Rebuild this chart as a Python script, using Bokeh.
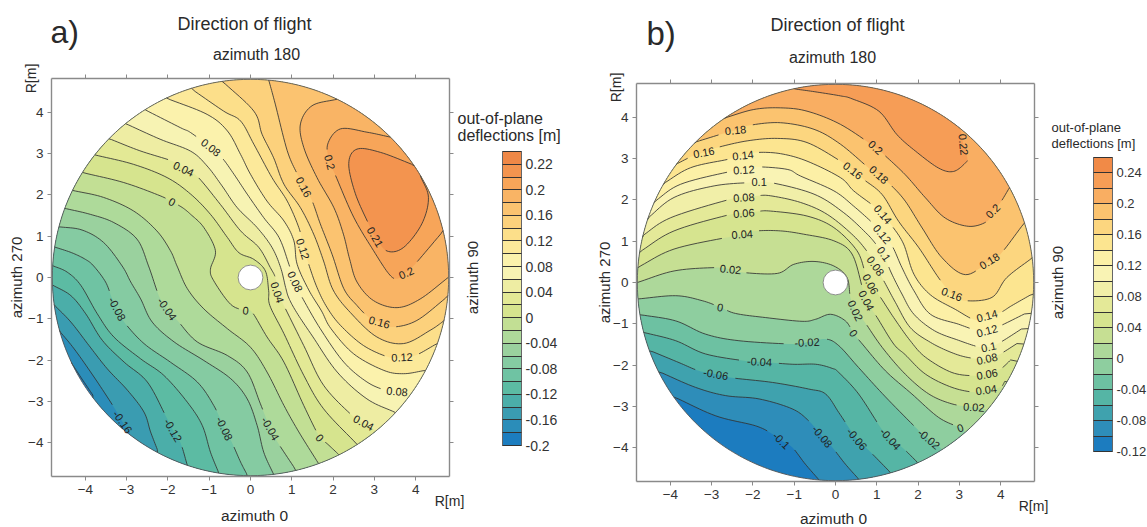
import numpy as np
from bokeh.core.properties import value
from bokeh.embed import file_html
from bokeh.resources import INLINE
from bokeh.plotting import figure
from bokeh.layouts import row
from bokeh.models import (ColorBar, ColumnDataSource, CustomJSTickFormatter, FixedTicker, Label,
                          LinearAxis, LinearColorMapper)

# ---------- panel a: contour traces (R[m] east, R[m] north) ----------
a_m18 = [(-4.35,-2.05),(-4.08,-2.46),(-3.79,-2.89)]
a_m16 = [(-4.64,-1.28),(-4.27,-1.73),(-3.79,-2.41),(-3.31,-3.14),(-3.10,-3.50),(-2.90,-3.78)]
a_m14 = [(-4.76,-0.66),(-4.35,-1.08),(-3.91,-1.65),(-3.47,-2.21),(-2.98,-2.73),(-2.58,-3.26),(-2.42,-3.74),(-2.24,-4.21)]
a_m12 = [(-4.80,-0.18),(-4.35,-0.44),(-3.99,-0.88),(-3.59,-1.52),(-3.06,-2.05),(-2.50,-2.53),(-2.06,-3.34),(-1.88,-3.70),(-1.69,-4.02),(-1.53,-4.55)]
a_m10 = [(-4.80,0.29),(-4.44,0.13),(-4.11,-0.19),(-3.71,-0.88),(-3.31,-1.44),(-2.66,-1.97),(-2.10,-2.37),(-1.53,-3.02),(-1.17,-3.58),(-0.97,-4.23),(-0.77,-4.73)]
a_m08 = [(-4.78,0.75),(-4.33,0.60),(-4.00,0.44),(-3.80,0.28),(-3.51,-0.11),(-3.35,-0.52),(-3.23,-0.76),(-3.06,-1.08),(-2.58,-1.60),(-1.94,-2.05),(-1.29,-2.53),(-0.89,-3.10),(-0.63,-3.66),(-0.44,-4.02),(-0.24,-4.47),(-0.08,-4.78)]
a_m06 = [(-4.65,1.23),(-4.08,1.15),(-3.56,0.85),(-3.11,0.28),(-2.90,-0.11),(-2.66,-0.52),(-2.38,-1.08),(-1.85,-1.56),(-1.13,-2.01),(-0.48,-2.45),(-0.08,-2.94),(0.16,-3.58),(0.32,-4.23),(0.56,-4.77)]
a_m04 = [(-4.52,1.68),(-3.88,1.53),(-3.31,1.33),(-2.75,0.93),(-2.47,0.28),(-2.22,-0.44),(-2.02,-0.76),(-1.77,-1.04),(-1.29,-1.56),(-0.56,-1.89),(-0.08,-2.29),(0.24,-3.06),(0.48,-3.66),(0.65,-3.98),(1.09,-4.65)]
a_m02 = [(-4.31,2.11),(-3.56,1.94),(-2.83,1.61),(-2.27,1.13),(-1.94,0.65),(-1.78,0.28),(-1.53,-0.27),(-1.13,-0.76),(-0.56,-1.24),(0.0,-1.69),(0.40,-2.29),(0.81,-3.10),(1.17,-3.74),(1.65,-4.51)]
a_p00 = [(-4.06,2.54),(-3.07,2.30),(-2.19,1.98),(-1.90,1.83),(-1.66,1.70),(-1.45,1.53),(-1.13,1.21),(-0.85,0.65),(-0.97,0.20),(-0.89,-0.08),(-0.48,-0.65),(-0.12,-0.80),(0.04,-0.84),(0.40,-1.44),(0.81,-2.05),(1.29,-3.10),(1.68,-3.88),(1.85,-4.02),(2.14,-4.29)]
a_p02 = [(-3.77,2.97),(-2.83,2.74),(-2.02,2.42),(-1.45,2.02),(-0.97,1.53),(-0.56,0.97),(-0.28,0.60),(0.08,0.44),(0.36,0.16),(0.44,-0.32),(0.47,-0.68),(0.81,-1.36),(1.29,-2.37),(1.77,-3.18),(2.58,-4.04)]
a_p04 = [(-3.44,3.37),(-2.68,3.07),(-1.87,2.81),(-1.62,2.63),(-1.30,2.46),(-0.73,1.77),(-0.24,1.13),(0.20,0.73),(0.48,0.24),(0.60,0.0),(0.66,-0.36),(0.77,-0.60),(1.29,-1.65),(1.77,-2.61),(2.46,-3.34),(2.74,-3.52),(3.02,-3.70)]
a_p06 = [(-3.03,3.73),(-2.19,3.35),(-1.45,3.06),(-1.05,2.70),(-0.69,2.22),(-0.32,1.69),(0.16,1.21),(0.52,0.73),(0.73,0.24),(0.85,-0.24),(0.93,-0.50),(1.12,-0.85),(1.50,-1.42),(2.10,-2.29),(2.82,-2.94),(3.51,-3.27)]
a_p08 = [(-2.55,4.06),(-1.70,3.63),(-1.45,3.51),(-0.97,3.15),(-0.69,2.90),(-0.40,2.50),(-0.08,2.02),(0.32,1.45),(0.69,0.97),(0.93,0.32),(1.07,-0.12),(1.25,-0.48),(1.69,-1.24),(2.26,-2.05),(2.82,-2.53),(3.27,-2.73),(3.55,-2.76),(3.87,-2.90)]
a_p10 = [(-2.03,4.34),(-1.05,3.95),(-0.56,3.55),(-0.24,2.98),(0.0,2.50),(0.40,1.85),(0.81,1.37),(1.05,0.89),(1.13,0.32),(1.41,-0.30),(1.72,-0.81),(1.95,-1.24),(2.50,-1.85),(3.23,-2.25),(3.71,-2.33),(4.23,-2.25)]
a_p12 = [(-1.42,4.56),(-0.65,4.03),(-0.24,3.79),(0.08,3.23),(0.52,2.42),(0.89,1.85),(1.17,1.21),(1.29,0.73),(1.41,0.32),(1.61,-0.24),(1.85,-0.72),(2.18,-1.16),(2.74,-1.65),(3.35,-1.93),(3.67,-1.93),(3.99,-1.89),(4.52,-1.60)]
a_p14 = [(-0.69,4.76),(0.08,4.03),(0.28,3.47),(0.56,2.90),(0.81,2.26),(1.21,1.69),(1.53,1.05),(1.77,0.40),(2.00,-0.30),(2.42,-0.85),(3.06,-1.44),(3.71,-1.60),(4.35,-1.28),(4.70,-1.04)]
a_p16 = [(0.44,4.79),(0.60,4.20),(0.89,3.07),(1.13,2.51),(1.29,2.19),(1.49,1.86),(1.69,1.30),(1.98,0.55),(2.26,-0.27),(2.58,-0.68),(2.86,-0.96),(3.12,-1.08),(3.43,-1.20),(4.03,-1.04),(4.80,-0.44)]
a_p18 = [(2.10,4.32),(1.49,4.16),(1.21,3.72),(1.29,3.15),(1.61,2.42),(2.02,1.69),(2.25,1.05),(2.40,0.45),(2.58,-0.11),(2.98,-0.56),(3.55,-0.73),(4.11,-0.52),(4.80,0.01)]
a_p20 = [(3.39,3.40),(2.82,3.52),(2.18,3.60),(1.87,3.23),(1.92,2.79),(2.06,2.47),(2.50,1.46),(2.98,0.65),(3.35,0.09),(3.55,-0.03),(3.77,0.13),(3.99,0.33),(4.68,1.14)]
a_p21 = [(3.99,2.71),(3.15,3.03),(2.58,3.11),(2.38,2.76),(2.54,2.03),(2.86,1.30),(3.02,0.98),(3.31,0.64),(3.71,0.73),(4.15,1.30),(4.31,1.94),(4.11,2.47)]

a_line_levels = [-0.18,-0.16,-0.14,-0.12,-0.10,-0.08,-0.06,-0.04,-0.02,0,0.02,0.04,0.06,0.08,0.10,0.12,0.14,0.16,0.18,0.20,0.21]
a_lines = [a_m18,a_m16,a_m14,a_m12,a_m10,a_m08,a_m06,a_m04,a_m02,a_p00,a_p02,a_p04,a_p06,a_p08,a_p10,a_p12,a_p14,a_p16,a_p18,a_p20,a_p21]
a_levels = [-0.20,-0.18,-0.16,-0.14,-0.12,-0.10,-0.08,-0.06,-0.04,-0.02,0,0.02,0.04,0.06,0.08,0.10,0.12,0.14,0.16,0.18,0.20,0.21,0.22,0.23]
a_band_colors = ["#1C7DBF","#2B8DB9","#3A9CB1","#4BAEA9","#5CBBA3","#6FC3A3","#85CBA2","#9AD19E","#AEDA9A","#C2DF94",
                 "#D6E48E","#E3E995","#EEEDA3","#F7F3B3","#FBF2AC","#FCE99A","#FCDF8A","#FCD17C","#FBC370","#F9B465",
                 "#F7A559","#F3944F","#EF8847"]
a_bar_ticks = [-0.20,-0.16,-0.12,-0.08,-0.04,0,0.04,0.08,0.12,0.16,0.20,0.22]
a_bar_labels = ["-0.2","-0.16","-0.12","-0.08","-0.04","0","0.04","0.08","0.12","0.16","0.2","0.22"]
# contour label: level, x, y, text, angle in degrees
a_labels = [(0.08,-0.96,3.15,"0.08",-38),(0.04,-1.62,2.63,"0.04",-25),(0,-1.90,1.83,"0",-28),(-0.08,-3.23,-0.76,"-0.08",-62),
            (-0.04,-2.02,-0.76,"-0.04",-55),(0,-0.12,-0.80,"0",-5),(-0.16,-3.10,-3.50,"-0.16",-55),(-0.12,-1.88,-3.70,"-0.12",-60),
            (-0.08,-0.63,-3.66,"-0.08",-65),(-0.04,0.48,-3.66,"-0.04",-60),(0,1.68,-3.88,"0",-50),(0.04,2.74,-3.52,"0.04",-28),
            (0.08,3.55,-2.76,"0.08",-5),(0.12,3.67,-1.93,"0.12",3),(0.16,3.12,-1.08,"0.16",-15),(0.20,3.77,0.11,"0.2",25),
            (0.21,3.02,0.98,"0.21",-60),(0.20,1.92,2.79,"0.2",-75),(0.16,1.29,2.19,"0.16",-62),(0.12,1.27,0.69,"0.12",-72),
            (0.08,1.08,-0.10,"0.08",-65),(0.04,0.65,-0.36,"0.04",-72)]

# ---------- panel b ----------
b_m10 = [(-3.91,-2.77),(-2.90,-3.23),(-1.94,-3.47),(-1.53,-3.67),(-1.31,-3.83),(-1.05,-3.99),(-0.73,-4.40),(-0.40,-4.78)]
b_m08 = [(-4.27,-2.16),(-3.39,-2.54),(-2.66,-2.74),(-1.85,-2.82),(-1.05,-3.06),(-0.65,-3.35),(-0.32,-3.73),(-0.08,-3.99),(0.24,-4.40),(0.56,-4.76)]
b_m06 = [(-4.49,-1.65),(-3.79,-1.94),(-3.31,-2.14),(-2.90,-2.22),(-2.50,-2.31),(-1.53,-2.42),(-0.65,-2.58),(-0.24,-2.70),(0.08,-3.15),(0.32,-3.51),(0.52,-3.79),(0.81,-4.07),(1.33,-4.60)]
b_m04 = [(-4.64,-1.21),(-3.87,-1.41),(-3.15,-1.73),(-2.18,-1.90),(-1.84,-1.92),(-1.05,-1.98),(-0.48,-1.98),(-0.08,-2.08),(0.08,-2.18),(0.56,-2.70),(1.09,-3.51),(1.33,-3.79),(1.61,-3.99),(1.98,-4.35)]
b_m02 = [(-4.72,-0.78),(-3.87,-0.93),(-3.15,-1.25),(-2.34,-1.41),(-1.05,-1.49),(-0.69,-1.45),(-0.24,-1.37),(0.08,-1.53),(0.56,-2.06),(1.21,-2.77),(2.02,-3.59),(2.26,-3.79),(2.54,-3.99)]
b_p00 = [(-4.80,-0.40),(-3.87,-0.32),(-3.23,-0.44),(-2.79,-0.60),(-2.42,-0.75),(-1.69,-0.85),(-0.81,-0.94),(-0.48,-0.89),(-0.12,-0.77),(0.24,-0.93),(0.44,-1.23),(0.65,-1.49),(1.21,-2.14),(1.85,-2.70),(2.50,-3.27),(3.02,-3.52),(3.15,-3.63)]
b_p02 = [(-4.80,0.0),(-3.91,0.28),(-2.94,0.36),(-2.54,0.32),(-2.22,0.24),(-1.41,0.22),(-1.01,0.44),(-0.52,0.51),(-0.04,0.40),(0.28,0.12),(0.36,-0.36),(0.48,-0.65),(0.69,-0.93),(1.13,-1.57),(1.69,-2.22),(2.26,-2.70),(2.82,-2.94),(3.35,-3.02),(3.63,-3.06)]
b_p04 = [(-4.80,0.36),(-3.91,0.81),(-2.54,1.11),(-2.26,1.17),(-1.90,1.25),(-1.33,1.25),(-0.77,1.17),(-0.04,1.01),(0.40,0.69),(0.65,-0.12),(0.75,-0.44),(1.01,-0.85),(1.41,-1.49),(1.69,-1.75),(2.18,-2.22),(2.82,-2.54),(3.39,-2.66),(3.65,-2.60),(3.99,-2.54),(4.11,-2.38)]
b_p06 = [(-4.76,0.73),(-3.91,1.25),(-2.54,1.65),(-2.22,1.68),(-1.90,1.72),(-1.57,1.73),(-0.69,1.61),(-0.04,1.33),(0.52,0.77),(0.73,0.20),(0.85,-0.04),(1.09,-0.36),(1.41,-0.85),(1.81,-1.41),(2.18,-1.81),(2.82,-2.18),(3.39,-2.26),(3.67,-2.22),(3.99,-2.10),(4.27,-1.85)]
b_p08 = [(-4.72,1.10),(-3.99,1.57),(-2.54,2.02),(-2.22,2.06),(-1.90,2.10),(-1.57,2.10),(-0.85,1.94),(-0.20,1.65),(0.44,1.13),(0.81,0.69),(0.97,0.40),(1.17,0.04),(1.45,-0.48),(1.81,-1.09),(2.30,-1.45),(2.82,-1.70),(3.23,-1.82),(3.67,-1.85),(3.99,-1.73),(4.44,-1.45)]
b_p10 = [(-4.58,1.53),(-3.91,2.06),(-2.94,2.34),(-2.06,2.42),(-1.57,2.42),(-0.52,2.14),(0.20,1.69),(0.77,1.17),(1.01,0.89),(1.17,0.69),(1.33,0.28),(1.61,-0.28),(1.90,-0.77),(2.40,-1.17),(2.98,-1.40),(3.47,-1.56),(3.71,-1.56),(3.99,-1.45),(4.56,-1.09)]
b_p12 = [(-4.41,1.94),(-3.75,2.38),(-2.54,2.69),(-2.22,2.73),(-1.90,2.80),(-1.17,2.74),(-0.85,2.58),(-0.04,2.22),(0.44,1.85),(0.93,1.41),(1.13,1.17),(1.37,0.89),(1.61,0.36),(1.90,-0.20),(2.30,-0.77),(2.98,-1.01),(3.39,-1.15),(3.67,-1.17),(3.99,-1.05),(4.64,-0.73)]
b_p14 = [(-4.19,2.38),(-3.51,2.78),(-2.62,2.98),(-2.24,3.08),(-1.90,3.15),(-1.33,3.12),(-0.69,2.94),(0.12,2.54),(0.44,2.22),(0.93,1.85),(1.15,1.65),(1.37,1.37),(1.65,0.93),(1.90,0.20),(2.30,-0.30),(2.90,-0.65),(3.39,-0.91),(3.67,-0.81),(3.99,-0.73),(4.27,-0.56),(4.76,-0.28)]
b_p16 = [(-3.87,2.86),(-3.47,3.06),(-3.19,3.15),(-2.86,3.27),(-2.14,3.43),(-1.41,3.49),(-0.69,3.39),(0.12,2.94),(0.42,2.71),(0.69,2.49),(1.13,2.13),(1.53,1.48),(2.02,0.84),(2.50,0.11),(2.82,-0.28),(3.15,-0.44),(3.79,-0.36),(4.15,0.12),(4.77,0.60)]
b_p18 = [(-3.43,3.39),(-2.78,3.59),(-2.42,3.69),(-2.06,3.81),(-1.33,3.87),(-0.52,3.71),(0.12,3.35),(0.81,2.77),(1.05,2.61),(1.33,2.37),(1.69,1.97),(2.10,1.32),(2.58,0.60),(3.15,0.19),(3.73,0.52),(3.99,0.68),(4.57,1.44)]
b_p20 = [(-2.70,3.98),(-1.98,4.19),(-1.33,4.23),(-0.69,4.15),(0.12,3.83),(0.97,3.27),(1.17,3.10),(1.69,2.61),(2.18,2.05),(2.66,1.56),(3.23,1.36),(3.67,1.48),(3.81,1.73),(3.99,1.93),(4.21,2.29)]
b_p22 = [(-1.00,4.69),(-0.50,4.62),(0.12,4.52),(0.40,4.45),(1.05,4.15),(1.49,3.58),(1.94,3.18),(2.50,2.77),(2.86,2.69),(3.15,2.90),(3.19,3.02),(3.10,3.34),(3.02,3.73)]

b_line_levels = [-0.10,-0.08,-0.06,-0.04,-0.02,0,0.02,0.04,0.06,0.08,0.10,0.12,0.14,0.16,0.18,0.20,0.22]
b_lines = [b_m10,b_m08,b_m06,b_m04,b_m02,b_p00,b_p02,b_p04,b_p06,b_p08,b_p10,b_p12,b_p14,b_p16,b_p18,b_p20,b_p22]
b_levels = [-0.12,-0.10,-0.08,-0.06,-0.04,-0.02,0,0.02,0.04,0.06,0.08,0.10,0.12,0.14,0.16,0.18,0.20,0.22,0.24,0.26]
b_band_colors = ["#1C7CBF","#2E8DB9","#3FA2AE","#55B5A5","#6DC1A2","#8ECE9F","#ADD89A","#C6DF93","#D6E48F","#E4E998",
                 "#F1EFA8","#F9F3B4","#FCF0A6","#FCE590","#FCD67F","#FBC36F","#F9AE62","#F69D56","#F18A47"]
b_bar_ticks = [-0.12,-0.08,-0.04,0,0.04,0.08,0.12,0.16,0.20,0.24]
b_bar_labels = ["-0.12","-0.08","-0.04","0","0.04","0.08","0.12","0.16","0.2","0.24"]
b_labels = [(0.18,-2.42,3.69,"0.18",6),(0.16,-3.19,3.15,"0.16",10),(0.14,-2.24,3.08,"0.14",6),(0.12,-2.22,2.73,"0.12",4),
            (0.10,-1.85,2.44,"0.1",0),(0.08,-2.22,2.06,"0.08",4),(0.06,-2.22,1.68,"0.06",4),(0.04,-2.26,1.17,"0.04",4),
            (0.02,-2.54,0.32,"0.02",-5),(0,-2.79,-0.60,"0",-10),(-0.02,-0.69,-1.45,"-0.02",3),(-0.04,-1.84,-1.92,"-0.04",-3),
            (-0.06,-2.90,-2.22,"-0.06",-10),(-0.08,-0.32,-3.73,"-0.08",-50),(-0.10,-1.31,-3.83,"-0.1",-45),
            (0.22,3.10,3.34,"0.22",-85),(0.20,0.97,3.27,"0.2",-42),(0.18,1.05,2.61,"0.18",-42),(0.16,0.42,2.71,"0.16",-38),
            (0.14,1.15,1.65,"0.14",-50),(0.12,1.13,1.17,"0.12",-50),(0.10,1.17,0.69,"0.1",-55),(0.08,0.97,0.40,"0.08",-55),
            (0.06,0.85,-0.04,"0.06",-62),(0.04,0.75,-0.44,"0.04",-62),(0.02,0.48,-0.68,"0.02",-65),(0,0.44,-1.23,"0",-55),
            (0.20,3.81,1.73,"0.2",45),(0.18,3.73,0.52,"0.18",32),(0.16,2.82,-0.28,"0.16",-20),(0.14,3.67,-0.81,"0.14",15),
            (0.12,3.67,-1.17,"0.12",15),(0.10,3.71,-1.56,"0.1",12),(0.08,3.67,-1.85,"0.08",12),(0.06,3.67,-2.22,"0.06",10),
            (0.04,3.65,-2.60,"0.04",8),(0.02,3.35,-3.02,"0.02",-3),(0,3.02,-3.52,"0",20),(-0.02,2.26,-3.79,"-0.02",-40),
            (-0.04,1.33,-3.79,"-0.04",-48),(-0.06,0.52,-3.79,"-0.06",-50)]

TICKS = [-4,-3,-2,-1,0,1,2,3,4]
RADIUS = 4.8
HOLE = 0.3
SPAN = 4.82
PPU = 398 / (2 * SPAN)
FONT = "Liberation Sans"
INK = "#2a2a2a"
HEIGHT = 527


def smooth(pts, n=10):
    """Round the corners of a traced contour (Catmull-Rom through the traced points)."""
    p = np.array(pts, dtype=float)
    p = np.vstack([2 * p[0] - p[1], p, 2 * p[-1] - p[-2]])
    out = []
    for i in range(1, len(p) - 2):
        for t in np.linspace(0, 1, n, endpoint=False):
            out.append(0.5 * (2 * p[i] + (p[i + 1] - p[i - 1]) * t
                              + (2 * p[i - 1] - 5 * p[i] + 4 * p[i + 1] - p[i + 2]) * t ** 2
                              + (3 * p[i] - p[i - 1] - 3 * p[i + 1] + p[i + 2]) * t ** 3))
    out.append(p[-2])
    return np.array(out)


def to_rim(pt):
    return pt * RADIUS / np.hypot(*pt)


def panel(lines, line_levels, levels, colors, labels, bar_ticks, bar_labels, x0, width, centre, label_size):
    """x0 = left page pixel of this figure; centre = page pixels of the R=0 point."""
    cx, cy = centre
    lx0 = cx - x0
    p = figure(width=width, height=HEIGHT, x_range=(-lx0 / PPU, (width - lx0) / PPU),
               y_range=((cy - HEIGHT) / PPU, cy / PPU), output_backend="svg", toolbar_location=None,
               min_border=0, outline_line_color=None, background_fill_color="white",
               border_fill_color="white", x_axis_location=None, y_axis_location=None)
    p.grid.visible = False

    th = np.linspace(0, 2 * np.pi, 361)
    p.patch(RADIUS * np.cos(th), RADIUS * np.sin(th), fill_color=colors[0], line_color=None)

    xs, ys, fills, seg_x, seg_y = [], [], [], [], []
    for level, line in zip(line_levels, lines):
        c = smooth(line)
        c[0], c[-1] = to_rim(c[0]), to_rim(c[-1])
        a0 = np.arctan2(c[-1][1], c[-1][0])
        a1 = np.arctan2(c[0][1], c[0][0])
        if a1 < a0:
            a1 += 2 * np.pi
        arc = np.linspace(a0, a1, 90)
        xs.append(np.r_[c[:, 0], RADIUS * np.cos(arc)])
        ys.append(np.r_[c[:, 1], RADIUS * np.sin(arc)])
        fills.append(colors[int(np.argmin(np.abs(np.array(levels) - level)))])

        keep = np.ones(len(c), bool)
        for lv, lx, ly, txt, _ in labels:
            if abs(lv - level) < 1e-6:
                keep &= np.hypot(c[:, 0] - lx, c[:, 1] - ly) > 0.075 * len(txt) + 0.09
        start = None
        for i in range(len(c) + 1):
            if i < len(c) and keep[i]:
                start = i if start is None else start
            elif start is not None:
                if i - start > 1:
                    seg_x.append(c[start:i, 0])
                    seg_y.append(c[start:i, 1])
                start = None
    p.patches(xs, ys, fill_color=fills, line_color=None)
    p.multi_line(seg_x, seg_y, line_color="#333333", line_width=0.85)
    p.line(RADIUS * np.cos(th), RADIUS * np.sin(th), line_color="#555555", line_width=0.9)
    p.circle(x=[0], y=[0], radius=HOLE, fill_color="white", line_color="#777777", line_width=0.8)

    src = ColumnDataSource(dict(x=[l[1] for l in labels], y=[l[2] for l in labels],
                                text=[l[3] for l in labels], angle=[l[4] for l in labels]))
    p.text(x="x", y="y", text="text", angle="angle", angle_units="deg", source=src, text_font=value(FONT),
           text_font_size="11px", text_color="#222222", text_align="center", text_baseline="middle")

    blank = CustomJSTickFormatter(code="return ''")
    sides = {"below": -SPAN, "left": -SPAN, "above": SPAN, "right": SPAN}
    for side, where in sides.items():
        ax = LinearAxis(ticker=FixedTicker(ticks=TICKS), fixed_location=where, bounds=(-SPAN, SPAN),
                        axis_line_color="#8a8a8a", axis_line_width=1.4,
                        major_tick_line_color="#8a8a8a", major_tick_line_width=1, major_tick_in=0,
                        major_tick_out=4, minor_tick_line_color=None, major_label_text_font=FONT,
                        major_label_text_font_size="13.5px", major_label_text_color="#333333",
                        major_label_standoff=4)
        if side in ("above", "right"):
            ax.formatter = blank
        p.add_layout(ax, side)

    def note(text, px, py, size, angle=0.0, align="center"):
        p.add_layout(Label(x=(px - cx) / PPU, y=(cy - py) / PPU, text=text, x_units="data", y_units="data",
                           text_font=FONT, text_font_size=size, text_color=INK, text_align=align,
                           text_baseline="middle", angle=angle, angle_units="deg"))

    tick_idx = [int(np.argmin(np.abs(np.array(levels) - t))) for t in bar_ticks]
    overrides = {float(i): "" for i in range(len(levels))}
    overrides.update({float(i): s for i, s in zip(tick_idx, bar_labels)})
    cm = LinearColorMapper(palette=colors, low=0, high=len(colors))
    cb = ColorBar(color_mapper=cm, width=19, height=294, padding=0, margin=0, location=(0, 0),
                  background_fill_alpha=0, border_line_color=None, bar_line_color="#666666",
                  ticker=FixedTicker(ticks=list(range(len(levels)))), major_label_overrides=overrides,
                  major_tick_line_color="#333333", major_tick_line_width=1, major_tick_in=19, major_tick_out=0,
                  minor_tick_line_color=None, major_label_text_font=FONT, major_label_text_font_size=label_size,
                  major_label_text_color="#333333", label_standoff=4)
    return p, note, cb


pa, note_a, cb_a = panel(a_lines, a_line_levels, a_levels, a_band_colors, a_labels, a_bar_ticks, a_bar_labels,
                         0, 590, (250, 277), "14px")
cb_a.location = (502, HEIGHT - 445)
pa.add_layout(cb_a, "center")
note_a("a)", 50, 31, "32px", align="left")
note_a("Direction of flight", 244, 23, "18px")
note_a("azimuth 180", 256, 54, "16px")
note_a("R[m]", 30, 78, "14px", 90)
note_a("azimuth 270", 16, 277, "15px", 90)
note_a("azimuth 90", 472, 277, "15px", 90)
note_a("azimuth 0", 254, 515, "15.5px")
note_a("R[m]", 449, 500, "14px")
note_a("out-of-plane", 457, 118, "16px", align="left")
note_a("deflections [m]", 457, 135, "16px", align="left")

pb, note_b, cb_b = panel(b_lines, b_line_levels, b_levels, b_band_colors, b_labels, b_bar_ticks, b_bar_labels,
                         590, 557, (835, 282), "13px")
cb_b.location = (1093 - 590, HEIGHT - 451)
pb.add_layout(cb_b, "center")
note_b("b)", 646, 33, "33px", align="left")
note_b("Direction of flight", 837, 24, "18px")
note_b("azimuth 180", 832, 57, "16px")
note_b("R[m]", 615, 87, "14px", 90)
note_b("azimuth 270", 604, 282, "15px", 90)
note_b("azimuth 90", 1057, 282, "15px", 90)
note_b("azimuth 0", 833, 518, "15.5px")
note_b("R[m]", 1033, 505, "14px")
note_b("out-of-plane", 1051, 127, "13px", align="left")
note_b("deflections [m]", 1051, 143, "13px", align="left")

layout = row(pa, pb, spacing=0)
open("out.html", "w").write(file_html(layout, INLINE))
